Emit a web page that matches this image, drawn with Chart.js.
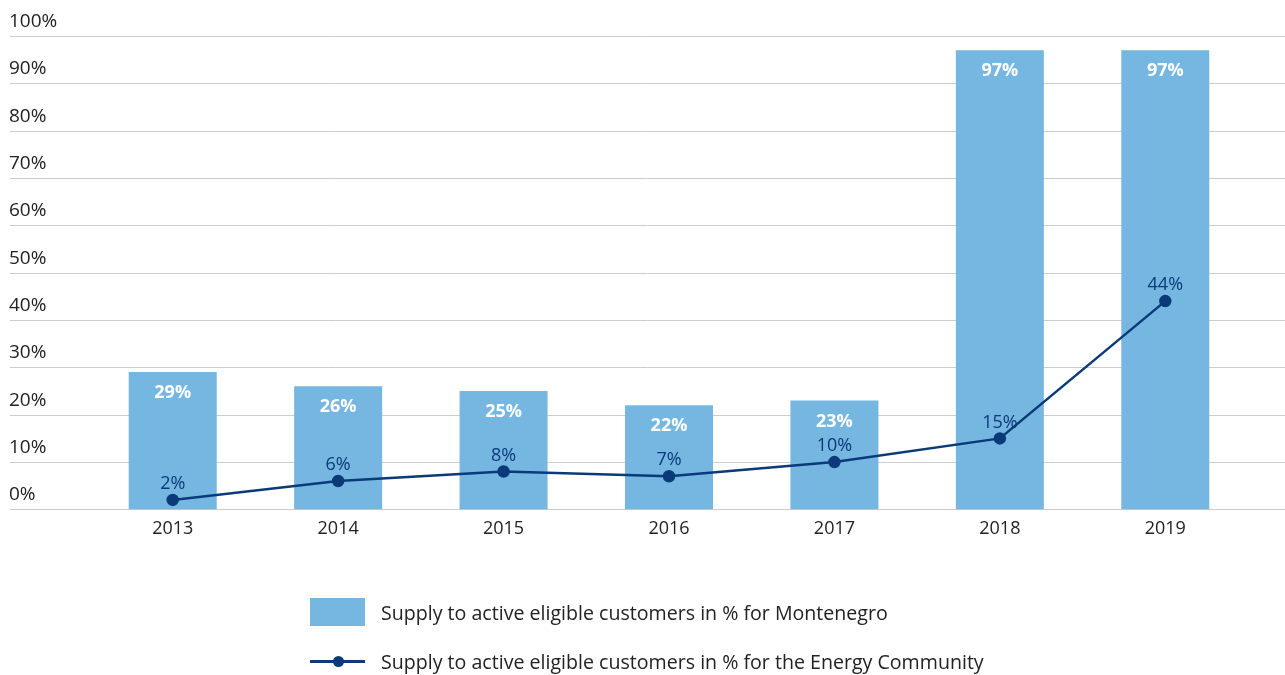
<!DOCTYPE html>
<html>
<head>
<meta charset="utf-8">
<script src="https://cdn.jsdelivr.net/npm/chart.js@4"></script>
<style>
  html, body { margin: 0; padding: 0; background: #fff; }
  #wrap { position: relative; width: 1285px; height: 675px; }
  canvas { position: absolute; left: 0; top: 0; }
  .legend { position: absolute; left: 310px; font-family: "Open Sans", sans-serif; font-size: 19.6px; color: #222; }
  .legend .row { position: absolute; left: 0; display: flex; align-items: center; white-space: nowrap; }
  .swatch { width: 55px; height: 28px; background: #75b7e1; }
  .lineKey { position: relative; width: 55px; height: 28px; }
  .lineKey .ln { position: absolute; left: 0; top: 13px; width: 55px; height: 3px; background: #0b3a78; }
  .lineKey .dot { position: absolute; left: 23px; top: 9px; width: 11px; height: 11px; border-radius: 50%; background: #0b3a78; }
  .legend .txt { margin-left: 16px; }
</style>
</head>
<body>
<div id="wrap">
  <canvas id="c" width="1285" height="675"></canvas>
  <div class="legend">
    <div class="row" style="top:598px"><div class="swatch"></div><span class="txt" id="l1"></span></div>
    <div class="row" style="top:647px"><div class="lineKey"><div class="ln"></div><div class="dot"></div></div><span class="txt" id="l2"></span></div>
  </div>
</div>
<script>
// Years on the category axis
const years = ['2013', '2014', '2015', '2016', '2017', '2018', '2019'];
// Share of supply to active eligible customers, Montenegro (bars)
const montenegro = [29, 26, 25, 22, 23, 97, 97];
// Share of supply to active eligible customers, Energy Community (line)
const energyCommunity = [2, 6, 8, 7, 10, 15, 44];
// Value axis ticks
const yTicks = [0, 10, 20, 30, 40, 50, 60, 70, 80, 90, 100];

const barLabel = 'Supply to active eligible customers in % for Montenegro';
const lineLabel = 'Supply to active eligible customers in % for the Energy Community';
document.getElementById('l1').textContent = barLabel;
document.getElementById('l2').textContent = lineLabel;

const FONT = '"Open Sans", sans-serif';
const BAR = '#75b7e1';
const NAVY = '#0b3a78';

// Full-width gridlines with their labels sitting above each line
const gridPlugin = {
  id: 'fullGrid',
  beforeDatasetsDraw(chart) {
    const ctx = chart.ctx, y = chart.scales.y;
    ctx.save();
    ctx.strokeStyle = '#cccccc';
    ctx.lineWidth = 1;
    ctx.fillStyle = '#222';
    ctx.font = '19px ' + FONT;
    ctx.textAlign = 'left';
    ctx.textBaseline = 'middle';
    yTicks.forEach(v => {
      const py = Math.round(y.getPixelForValue(v)) + 0.5;
      ctx.beginPath();
      ctx.moveTo(10, py);
      ctx.lineTo(1285, py);
      ctx.stroke();
      ctx.fillText(v + '%', 9, py - 15);
    });
    ctx.restore();
  }
};

// Value labels: white bold inside bars, navy above line points
const valueLabels = {
  id: 'valueLabels',
  afterDatasetsDraw(chart) {
    const ctx = chart.ctx;
    ctx.save();
    ctx.textAlign = 'center';
    ctx.textBaseline = 'middle';
    chart.getDatasetMeta(0).data.forEach((el, i) => {
      ctx.fillStyle = '#ffffff';
      ctx.font = 'bold 18px ' + FONT;
      ctx.fillText(montenegro[i] + '%', el.x, el.y + 21);
    });
    chart.getDatasetMeta(1).data.forEach((el, i) => {
      ctx.fillStyle = NAVY;
      ctx.font = '18px ' + FONT;
      ctx.fillText(energyCommunity[i] + '%', el.x, el.y - 16);
    });
    ctx.restore();
  }
};

new Chart(document.getElementById('c'), {
  data: {
    labels: years,
    datasets: [
      {
        type: 'bar',
        label: barLabel,
        data: montenegro,
        backgroundColor: BAR,
        barPercentage: 0.532,
        categoryPercentage: 1,
        order: 2
      },
      {
        type: 'line',
        label: lineLabel,
        data: energyCommunity,
        borderColor: NAVY,
        backgroundColor: NAVY,
        borderWidth: 2.5,
        pointRadius: 5,
        pointHoverRadius: 5,
        tension: 0,
        order: 1
      }
    ]
  },
  options: {
    responsive: false,
    animation: false,
    layout: { padding: { left: 90, right: 37, top: 36, bottom: 134 } },
    plugins: { legend: { display: false }, tooltip: { enabled: false } },
    scales: {
      x: {
        grid: { display: false },
        border: { display: false },
        ticks: { color: '#222', font: { family: FONT, size: 18 }, padding: 1 }
      },
      y: {
        min: 0, max: 100,
        display: false
      }
    }
  },
  plugins: [gridPlugin, valueLabels]
});
</script>
</body>
</html>
